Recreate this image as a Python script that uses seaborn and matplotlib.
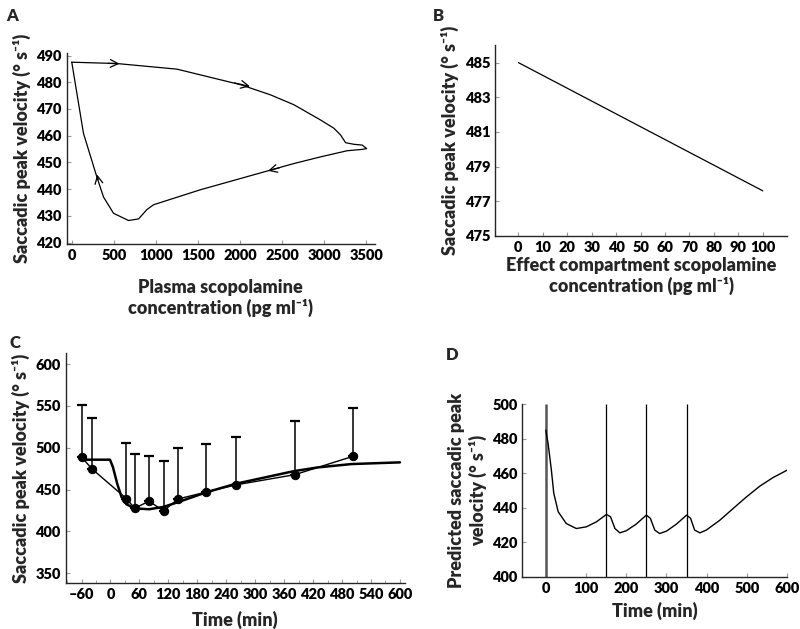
import numpy as np
import pandas as pd
import matplotlib
matplotlib.use('Agg')
import matplotlib.pyplot as plt
from matplotlib.ticker import MultipleLocator
import seaborn as sns

# panel A - hysteresis loop (plasma conc vs velocity)
a_conc = [0, 536, 1250, 2004, 2361, 2639, 2956, 3115, 3194, 3254, 3353, 3452, 3504,
          3452, 3274, 2956, 2639, 2321, 1925, 1528, 1131, 972, 893, 794, 675, 496,
          377, 298, 139, 0]
a_vel = [487.5, 487.0, 484.9, 479.1, 475.3, 471.6, 465.9, 462.8, 460.3, 457.4, 456.8, 456.5, 455.2,
         454.9, 454.4, 452.1, 449.6, 446.8, 443.3, 439.8, 435.8, 434.2, 432.4, 428.9, 428.3, 431.0,
         437.1, 444.6, 460.9, 487.5]
# arrows: (x_from, y_from, x_to, y_to)
a_arrows = [(400, 487.1, 600, 486.9),
            (1900, 480.0, 2150, 478.2),
            (2500, 448.3, 2300, 446.6),
            (320, 442.5, 295, 446.5)]

# panel B - effect compartment conc vs velocity
b_conc = [0, 100]
b_vel = [485.0, 477.6]

# panel C - observed (mean + upper SD) and model
c_time = [-60, -38, 33, 50, 80, 110, 140, 199, 260, 382, 502]
c_mean = [488.8, 474.5, 439.3, 427.7, 436.1, 424.5, 438.8, 447.1, 455.6, 467.8, 489.6]
c_upper = [551.5, 535.2, 505.5, 492.9, 490.0, 484.0, 499.5, 503.9, 512.5, 531.7, 547.6]
c_model_t = [-60, -1, 5, 14, 23, 33, 50, 80, 110, 140, 200, 260, 300, 380, 430, 500, 600]
c_model_v = [485.7, 485.7, 477, 457, 441, 432.5, 427.5, 426.5, 429.3, 435, 447, 457, 462,
             472, 476.5, 480.5, 482.5]

# panel D - predicted velocity with repeated dosing
d_time = [0, 5.8, 14, 20, 31, 51, 76, 101, 126, 151, 161, 172, 184, 200, 225, 250, 260,
          271, 283, 300, 325, 350, 360, 370, 383, 399, 433, 466, 499, 532, 565, 600]
d_vel = [485.1, 477.4, 461.9, 448.4, 437.7, 430.9, 428.0, 429.0, 431.9, 436.2, 434.8, 428.0,
         425.5, 426.7, 430.6, 435.8, 433.9, 427.1, 425.1, 426.5, 430.6, 435.8, 433.9, 427.1,
         425.5, 427.1, 432.9, 439.7, 446.4, 452.6, 457.6, 461.9]
dose_times = [0, 150, 250, 350]

sns.set_style('ticks')
plt.rcParams['font.family'] = ['Lato', 'DejaVu Sans']
plt.rcParams['font.weight'] = 'heavy'
plt.rcParams['axes.labelweight'] = 'heavy'
plt.rcParams['axes.linewidth'] = 1.0
plt.rcParams['xtick.direction'] = 'in'
plt.rcParams['ytick.direction'] = 'in'
plt.rcParams['xtick.major.size'] = 3
plt.rcParams['ytick.major.size'] = 3
plt.rcParams['xtick.minor.size'] = 2
plt.rcParams['xtick.color'] = '#999999'
plt.rcParams['ytick.color'] = '#999999'
plt.rcParams['xtick.labelcolor'] = 'black'
plt.rcParams['ytick.labelcolor'] = 'black'
plt.rcParams['xtick.labelsize'] = 10.5
plt.rcParams['ytick.labelsize'] = 10.5
plt.rcParams['axes.labelsize'] = 13

fig = plt.figure(figsize=(8, 6.29), dpi=100)
axA = fig.add_axes([0.0834, 0.612, 0.385, 0.304])
axB = fig.add_axes([0.619, 0.625, 0.365, 0.303])
axC = fig.add_axes([0.082, 0.0726, 0.424, 0.366])
axD = fig.add_axes([0.653, 0.083, 0.331, 0.274])

vel_label = 'Saccadic peak velocity (° s⁻¹)'

# A
dfA = pd.DataFrame({'conc': a_conc, 'vel': a_vel})
sns.lineplot(data=dfA, x='conc', y='vel', sort=False, estimator=None, color='black', lw=0.9, ax=axA)
for x0, y0, x1, y1 in a_arrows:
    axA.annotate('', xy=(x1, y1), xytext=(x0, y0),
                 arrowprops=dict(arrowstyle='->', color='black', lw=0.9, mutation_scale=14))
axA.set_xlim(-60, 3600)
axA.set_ylim(419.5, 491)
axA.set_xticks(np.arange(0, 3501, 500))
axA.set_yticks(np.arange(420, 491, 10))
axA.set_xlabel('Plasma scopolamine\nconcentration (pg ml⁻¹)', labelpad=12)
axA.set_ylabel(vel_label)

# B
dfB = pd.DataFrame({'conc': b_conc, 'vel': b_vel})
sns.lineplot(data=dfB, x='conc', y='vel', color='black', lw=0.9, ax=axB)
axB.set_xlim(-9.5, 110)
axB.set_ylim(475, 486)
axB.set_xticks(np.arange(0, 101, 10))
axB.set_yticks(np.arange(475, 486, 2))
axB.set_xlabel('Effect compartment scopolamine\nconcentration (pg ml⁻¹)', labelpad=2)
axB.set_ylabel(vel_label)

# C
dfC = pd.DataFrame({'time': c_time, 'mean': c_mean, 'upper': c_upper})
err_up = dfC['upper'] - dfC['mean']
axC.errorbar(dfC['time'], dfC['mean'], yerr=[np.zeros(len(dfC)), err_up], fmt='none',
             ecolor='black', elinewidth=1.1, capsize=3.5, capthick=1.6)
sns.lineplot(x=c_model_t, y=c_model_v, color='black', lw=1.8, ax=axC)
sns.lineplot(data=dfC, x='time', y='mean', color='black', lw=1.0, marker='o',
             markersize=6, markeredgecolor='black', ax=axC)
axC.set_xlim(-93, 610)
axC.set_ylim(338, 613)
axC.set_xticks(np.arange(-60, 601, 60))
axC.set_xticklabels(['\u201360'] + [str(v) for v in range(0, 601, 60)])
axC.xaxis.set_minor_locator(MultipleLocator(30))
axC.set_yticks(np.arange(350, 601, 50))
axC.set_xlabel('Time (min)', labelpad=7)
axC.set_ylabel(vel_label)

# D
axD.vlines(dose_times[:1], 400, 500, color='#555555', lw=1.8)
axD.vlines(dose_times[1:], 400, 500, color='black', lw=0.9)
sns.lineplot(x=d_time, y=d_vel, color='black', lw=1.0, ax=axD)
axD.set_xlim(-58, 600)
axD.set_ylim(400, 500)
axD.set_xticks(np.arange(0, 601, 100))
axD.set_yticks(np.arange(400, 501, 20))
axD.set_xlabel('Time (min)', labelpad=5)
axD.set_ylabel('Predicted saccadic peak\nvelocity (° s⁻¹)')

for ax in (axA, axB, axC, axD):
    sns.despine(ax=ax)

for lab, x, y in [('A', 0.008, 0.988), ('B', 0.541, 0.988), ('C', 0.012, 0.468), ('D', 0.557, 0.448)]:
    fig.text(x, y, lab, fontsize=12, fontweight='heavy', va='top', ha='left')

fig.savefig('out.png', dpi=100)
